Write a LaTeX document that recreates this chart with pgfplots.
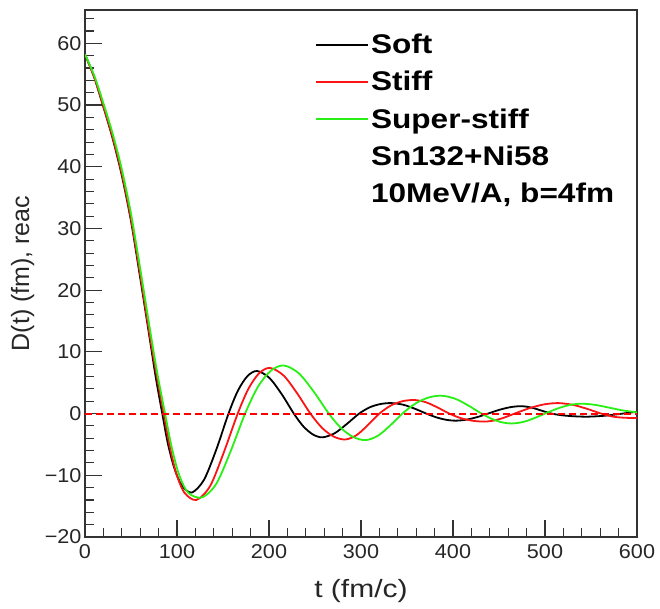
\documentclass[border=0pt]{standalone}
\usepackage{pgfplots}
\pgfplotsset{compat=1.18}
\usepackage{fontspec}
\setmainfont{Liberation Sans}
\newfontfamily\legfont[FakeStretch=1.17]{Liberation Sans}
\newfontfamily\labfont[FakeStretch=1.2]{Liberation Sans}
\newfontfamily\tickfont[FakeStretch=1.08]{Liberation Sans}
\definecolor{rgreen}{RGB}{40,240,20}
\definecolor{rred}{RGB}{250,20,20}
\definecolor{zred}{RGB}{255,0,0}
\begin{document}
\begin{tikzpicture}
\useasboundingbox (-85pt,-72pt) rectangle (575pt,537pt);
\begin{axis}[
  at={(0pt,0pt)}, anchor=south west,
  scale only axis, width=552pt, height=527pt,
  xmin=0, xmax=600, ymin=-20, ymax=65.4,
  axis line style={line width=1.1pt, black!80},
  tick style={line width=1.1pt, black!80},
  tick align=inside, xtick pos=bottom, ytick pos=left,
  major tick length=17pt, minor tick length=9pt,
  xtick={0,100,200,300,400,500,600},
  xticklabels={0,100,200,300,400,500,600},
  minor xtick={20,40,60,80,120,140,160,180,220,240,260,280,320,340,360,380,420,440,460,480,520,540,560,580},
  ytick={-20,-10,0,10,20,30,40,50,60},
  yticklabels={−20,−10,0,10,20,30,40,50,60},
  minor ytick={-18,-16,-14,-12,-8,-6,-4,-2,2,4,6,8,12,14,16,18,22,24,26,28,32,34,36,38,42,44,46,48,52,54,56,58,62,64},
  ticklabel style={font=\tickfont\fontsize{20}{24}\selectfont, text=black!85},
  xticklabel style={yshift=-4pt},
  xlabel={t (fm/c)},
  ylabel={D(t) (fm), reac},
  label style={font=\fontsize{25}{30}\selectfont, text=black!85},
  xlabel style={at={(axis description cs:0.5,0)}, anchor=center, yshift=-54pt, font=\labfont\fontsize{25}{30}\selectfont},
  ylabel style={at={(axis description cs:-0.113,0.5)}, anchor=center},
  legend style={draw=none, fill=none, at={(0.4167,0.958)}, anchor=north west,
    font=\legfont\fontsize{27}{31}\selectfont\bfseries, row sep=12pt, inner sep=0pt,
    cells={anchor=west}},
  legend cell align=left,
  legend image code/.code={\path (0pt,0pt) -- (52pt,0pt); \draw[#1] (0pt,0pt) -- (47pt,0pt);},
]
\addplot[black, line width=1.8pt, smooth] coordinates {
(0,58.2)(10,54.5)(20,49.7)(30,44.6)(40,38.6)(50,31.2)(60,22)(70,12.5)(77,5.8)(84,0)(90,-4.8)(97,-8.8)(105,-11.6)(116,-12.8)(129.3,-10.74)(142.7,-5.84)(156,0)(166.3,3.74)(176.7,6.09)(187,6.9)(200.3,5.8)(213.7,3.17)(227,0)(237.3,-2.07)(247.7,-3.38)(258,-3.85)(271.3,-3.19)(284.7,-1.67)(298,0)(309.7,1.03)(321.3,1.55)(333,1.7)(345.7,1.44)(358.3,0.8)(371,0)(381.7,-0.6)(392.3,-1.0)(403,-1.15)(414.7,-0.98)(426.3,-0.57)(438,0)(450,0.59)(462,1.03)(474,1.2)(485,0.98)(496,0.49)(507,0)(520,-0.3)(533,-0.45)(547,-0.5)(565,-0.35)(582,-0.05)(600,0.3)};
\addlegendentry{Soft}
\addplot[rred, line width=1.8pt, smooth] coordinates {
(0,58.2)(10,54.5)(20,49.8)(30,44.8)(40,38.9)(50,31.5)(60,22.5)(70,13)(77.5,6.5)(85.5,0)(92,-5.2)(99,-9.6)(108,-12.8)(121,-14)(136,-11.74)(150.7,-6.36)(166,0)(177.7,4.04)(189.3,6.54)(201,7.4)(215.7,6.19)(230.3,3.35)(245,0)(257.7,-2.32)(270.3,-3.73)(283,-4.2)(295.3,-3.48)(307.7,-1.83)(320,0)(332.7,1.33)(345.3,2.01)(358,2.2)(370.7,1.83)(383.3,0.98)(396,0)(408.7,-0.75)(421.3,-1.16)(434,-1.3)(445,-1.11)(456,-0.63)(467,0)(482.7,0.85)(498.3,1.47)(514,1.7)(529.7,1.43)(545.3,0.79)(561,0)(574,-0.5)(587,-0.68)(600,-0.72)};
\addlegendentry{Stiff}
\addplot[rgreen, line width=1.8pt, smooth] coordinates {
(0,58.2)(10,54.8)(20,50.3)(30,45.4)(40,39.6)(50,32.4)(60,23.5)(70,14.2)(78.5,6.6)(87,0)(94,-5.3)(102,-9.8)(112,-12.8)(127,-13.6)(142.7,-11.38)(158.3,-6.11)(174,0)(188,4.34)(202,6.94)(216,7.8)(232.3,6.54)(248.7,3.54)(265,0)(278.3,-2.35)(291.7,-3.81)(305,-4.3)(318.3,-3.6)(331.7,-1.93)(345,0)(359,1.61)(373,2.58)(387,2.9)(401.7,2.44)(416.3,1.34)(431,0)(442,-0.85)(453,-1.41)(464,-1.6)(476,-1.37)(488,-0.76)(500,0)(513.3,0.8)(526.7,1.39)(540,1.6)(555,1.4)(570,0.95)(585,0.5)(600,0.2)};
\addlegendentry{Super-stiff}
\addlegendimage{empty legend}
\addlegendentry{Sn132+Ni58}
\addlegendimage{empty legend}
\addlegendentry{10MeV/A, b=4fm}
\addplot[zred, line width=2pt, dash pattern=on 7pt off 4pt, forget plot] coordinates {(0,0)(600,0)};
\end{axis}
\end{tikzpicture}
\end{document}
